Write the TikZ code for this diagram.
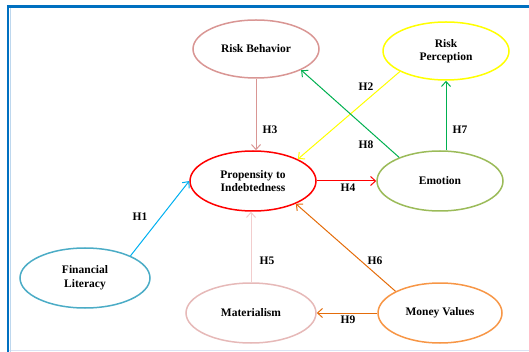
\documentclass[tikz,border=0pt]{standalone}
\usepackage{fontspec}
\setmainfont{Liberation Serif}
\usetikzlibrary{shapes.geometric,arrows.meta}
\definecolor{frameblue}{HTML}{0070C0}
\definecolor{framelight}{HTML}{BDD7EE}
\definecolor{framebottom}{HTML}{DAE3F3}
\definecolor{rbcol}{HTML}{D99694}
\definecolor{rpcol}{HTML}{FFFF00}
\definecolor{picol}{HTML}{FF0000}
\definecolor{emcol}{HTML}{9BBB59}
\definecolor{grcol}{HTML}{00B050}
\definecolor{flcol}{HTML}{4BACC6}
\definecolor{cycol}{HTML}{00B0F0}
\definecolor{macol}{HTML}{E6B9B8}
\definecolor{maarrow}{HTML}{F2CDCD}
\definecolor{mvcol}{HTML}{F79646}
\definecolor{orcol}{HTML}{E46C0A}
\tikzset{
  construct/.style={ellipse, draw, line width=1.5pt, inner sep=0pt,
    minimum width=126pt, minimum height=58pt, align=center,
    font=\fontsize{11.5}{13.5}\selectfont\bfseries},
  hyp/.style={font=\fontsize{11.5}{13.5}\selectfont\bfseries, inner sep=0pt},
  link/.style={line width=1pt, -{Straight Barb[length=5pt,width=9pt]}}
}
\begin{document}
\begin{tikzpicture}[x=1pt,y=-1pt]
\useasboundingbox (0,0) rectangle (529,352);
% frame
\draw[framebottom, line width=1.5pt] (8,350.5) -- (529,350.5);
\draw[framelight, line width=1pt] (10.5,8) -- (10.5,352);
\draw[frameblue, line width=2.2pt] (6.9,6.5) -- (529,6.5);
\draw[frameblue, line width=2.2pt] (8,5.4) -- (8,352);
% constructs
\node[construct, draw=rbcol] (rb) at (256,49) {Risk Behavior};
\node[construct, draw=rpcol] (rp) at (446,51) {Risk\\Perception};
\node[construct, draw=picol, minimum height=60pt] (pi) at (253,181) {Propensity to\\Indebtedness};
\node[construct, draw=emcol, minimum height=60pt] (em) at (440,181) {Emotion};
\node[construct, draw=flcol, minimum width=130pt, minimum height=60pt] (fl) at (85,278) {Financial\\Literacy};
\node[construct, draw=macol, minimum width=130pt, minimum height=60pt] (ma) at (251,313) {Materialism};
\node[construct, draw=mvcol, minimum width=124pt, minimum height=60pt] (mv) at (440,313) {Money Values};
% connectors
\draw[link, rbcol] (rb.south) -- (rb.south |- pi.north);
\draw[link, rpcol] (rp.204) -- (pi.26);
\draw[link, grcol] (em.150) -- (rb.-25);
\draw[link, grcol] (em.north -| rp.south) -- (rp.south);
\draw[link, picol] (pi.east) -- (em.west);
\draw[link, cycol] (fl.26) -- (pi.west);
\draw[link, maarrow] (ma.north) -- (ma.north |- pi.south);
\draw[link, orcol] (mv.154) -- (pi.-28);
\draw[link, orcol] (mv.west) -- (ma.east);
% labels
\node[hyp] (h1) at (140,217) {H1};
\node[hyp] (h2) at (366,87) {H2};
\node[hyp] (h3) at (270,130) {H3};
\node[hyp] (h4) at (348,188) {H4};
\node[hyp] (h5) at (267,261) {H5};
\node[hyp] (h6) at (375,261) {H6};
\node[hyp] (h7) at (460,130) {H7};
\node[hyp] (h8) at (366,145) {H8};
\node[hyp] (h9) at (348,320) {H9};
\end{tikzpicture}
\end{document}
